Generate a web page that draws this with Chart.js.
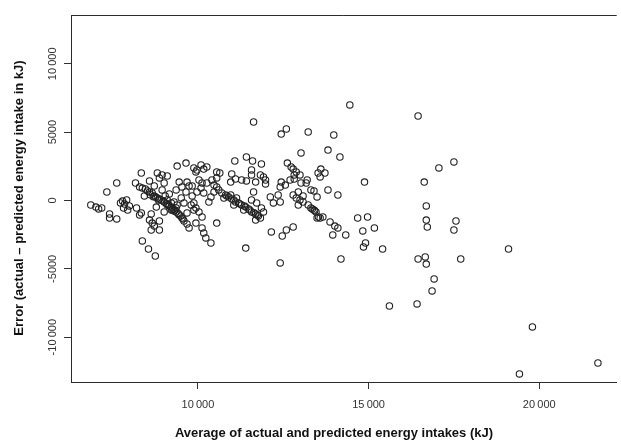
<!DOCTYPE html>
<html>
<head>
<meta charset="utf-8">
<script src="https://cdn.jsdelivr.net/npm/chart.js@4"></script>
<style>
  html, body { margin: 0; padding: 0; background: #fff; }
  #wrap { width: 621px; height: 443px; }
</style>
</head>
<body>
<div id="wrap"><canvas id="baChart" width="621" height="443"></canvas></div>
<script>
// Average of actual and predicted intake (kJ)
const avgIntake = [
  6860, 7010, 7090, 7180, 7330, 7410, 7410, 7620, 7620, 7790, 7850, 7910, 7990, 7820, 7940, 8170,
  7730, 8200, 8290, 8340, 8370, 8550, 8750, 8340, 8630, 8580, 8660, 8720, 8630, 8870, 8870,
  8810, 8950, 9100, 8870, 9010, 9390, 9650, 9880, 9940, 9450, 9680, 9740, 9530, 9360, 9650,
  8290, 8370, 8460, 8520, 8580, 8660, 8720, 8810, 8870, 8920, 9010, 9100, 9160, 9220, 9240,
  9300, 9360, 9450, 9530, 9590, 9680, 9740, 9100, 9220, 9300, 9390, 9220, 9360, 9040, 8950,
  9160, 9510, 9590, 9800, 9880, 9680, 9830, 8720, 8580, 8430, 8780, 9010,
  9970, 10090, 10170, 10260, 10550, 10640, 10550, 10990, 11100, 10960, 11280, 11420, 11570, 11570,
  11830, 11920, 11980, 11980, 11690, 11080, 11420, 11600, 11860, 11630, 10030, 10120, 10260, 10090,
  9970, 10170, 10410, 10470, 10550, 10610, 10470, 10380, 10320,
  10700, 10810, 10900, 10990, 11100, 11190, 11280, 11400, 11480, 11570, 11690, 11770, 11830,
  10760, 10960, 11130, 11340, 11050, 11630, 11570, 11720, 11860, 11920, 12120, 12210,
  9880, 9940, 10030, 10120, 9940, 10120, 10170, 10230, 10380, 10550, 11690, 12150, 11400, 12410, 9830,
  12440, 12590, 13230, 13980, 13020, 13810, 14160, 12620, 12730, 12790, 12880, 12820, 12990, 13020,
  13200, 13170, 13600, 13520, 13580, 13720, 12440, 12560, 12410, 12700, 12820, 13310, 13400, 13490,
  13810, 14100, 12790, 12880, 12990, 13080, 12940, 13080, 12940, 12350, 12410, 13230, 13310, 13400,
  13460, 13490, 13580, 13660, 13870, 14010, 14100, 13950, 14330, 12590, 12790, 12470, 14190,
  14680, 14970, 15170, 14830, 14910, 14850, 14880, 15410, 16450, 17500, 17060, 16630, 16690, 16690,
  16720, 17560, 17500, 19100, 16450, 16660, 16690, 17700, 16920, 16860, 15610, 16420, 19800, 21720,
  19420, 14450,
  8600, 8690, 8760, 8840, 8980, 9070, 9130, 9270, 9330, 9420, 9500, 9560,
  10850, 11050, 11230, 11360, 11520, 11640, 11740, 13350, 13420, 13530
];

// Error: actual minus predicted intake (kJ)
const errorIntake = [
  -330, -480, -620, -550, 620, -990, -1280, -1350, 1280, -40, -260, 40, -400, -550, -700, 1280,
  -180, -550, -1060, 2010, -2960, -3550, -4060, -910, -990, -1430, -1650, -1870, -2160, -1500, -2160,
  2010, 1870, 1790, 1650, 1280, 2520, 2740, 2380, 2090, 1350, 1350, 1060, 990, 770, 620,
  990, 910, 840, 700, 620, 550, 330, 180, 110, 40, -110, -330, -400, -480, -700,
  -770, -840, -1060, -1280, -1500, -1720, -2010, 40, -180, -110, -330, -700, -550, 330, 770,
  480, 180, -180, -330, -700, -910, 330, 1060, 1430, 330, -480, -840,
  2230, 2600, 2300, 2450, 2090, 2010, 1650, 1940, 1570, 1350, 1500, 1430, 2230, 1870,
  1870, 1720, 1500, 1210, 1350, 2890, 3180, 2890, 2670, 5740, 1500, 1280, 1280, 910,
  620, 550, 1500, 1130, 990, 770, 620, 260, -110,
  550, 400, 260, 110, -110, -180, -330, -480, -620, -840, -990, -1130, -1280,
  180, 400, 180, -700, -330, 620, 40, -180, -550, -840, 260, -180,
  -180, -550, -840, -1210, -1650, -2010, -2380, -2740, -3110, -1650, -1430, -2300, -3480, -4570, 1060,
  4860, 5230, 5010, 4790, 3480, 3690, 3180, 2740, 2450, 2300, 2090, 1870, 1870, 1280,
  1500, 1280, 2300, 2010, 1720, 2010, 1350, 1130, 990, 1500, 1570, 770, 700, 260,
  770, 400, 400, 180, 40, 330, 620, -110, -330, 400, -110, -330, -550, -700,
  -840, -1280, -1280, -1210, -1570, -1870, -2010, -2520, -2520, -2160, -1940, -2600, -4280,
  -1280, -1210, -2010, -2230, -3110, -3400, 1350, -3550, 6180, 2820, 2380, 1350, -400, -1430,
  -1940, -1500, -2160, -3550, -4280, -4130, -4650, -4280, -5740, -6620, -7720, -7570, -9250, -11890,
  -12690, 6990,
  420, 280, 250, 40, -30, -220, -290, -620, -700, -950, -1130, -1350,
  330, 40, -250, -400, -700, -900, -1060, -620, -760, -1210
];

const xTickValues = [10000, 15000, 20000];
const yTickValues = [-10000, -5000, 0, 5000, 10000];

const xTitle = 'Average of actual and predicted energy intakes (kJ)';
const yTitle = 'Error (actual \u2013 predicted energy intake in kJ)';

function fmt(v) {
  const s = String(Math.abs(v));
  const t = s.length > 4 ? s.replace(/\B(?=(\d{3})+(?!\d))/g, '\u2009') : s;
  return (v < 0 ? '-' : '') + t;
}

// frame, rotated y labels and axis titles, drawn the R way
const rFrame = {
  id: 'rFrame',
  afterDraw(chart) {
    const c = chart.ctx;
    const area = chart.chartArea;
    const y = chart.scales.y;
    c.save();
    c.strokeStyle = '#2b2b2b';
    c.lineWidth = 1;
    c.beginPath();
    c.moveTo(area.left, area.top + 0.5);
    c.lineTo(area.right, area.top + 0.5);
    c.stroke();

    c.fillStyle = '#333';
    c.font = '11px "Liberation Sans", Arial, sans-serif';
    c.textAlign = 'center';
    c.textBaseline = 'middle';
    yTickValues.forEach(v => {
      c.save();
      c.translate(53, y.getPixelForValue(v));
      c.rotate(-Math.PI / 2);
      c.fillText(fmt(v), 0, 0);
      c.restore();
    });

    c.fillStyle = '#111';
    c.font = 'bold 13px "Liberation Sans", Arial, sans-serif';
    c.fillText(xTitle, 334, 433);
    c.save();
    c.translate(19, 198);
    c.rotate(-Math.PI / 2);
    c.fillText(yTitle, 0, 0);
    c.restore();
    c.restore();
  }
};

const ctx = document.getElementById('baChart').getContext('2d');
new Chart(ctx, {
  type: 'scatter',
  data: {
    datasets: [{
      data: avgIntake.map((x, i) => ({ x: x, y: errorIntake[i] })),
      pointStyle: 'circle',
      pointRadius: 3.2,
      pointHoverRadius: 3.2,
      borderWidth: 1.1,
      borderColor: '#222',
      backgroundColor: 'rgba(0,0,0,0)'
    }]
  },
  options: {
    responsive: false,
    animation: false,
    devicePixelRatio: 1,
    layout: { padding: { top: 15, right: 0, left: 0, bottom: 0 } },
    plugins: { legend: { display: false }, tooltip: { enabled: false } },
    scales: {
      x: {
        type: 'linear',
        min: 6280,
        max: 22270,
        afterBuildTicks: s => { s.ticks = xTickValues.map(v => ({ value: v })); },
        afterFit: s => { s.height = 61; },
        grid: { drawOnChartArea: false, tickLength: 7, color: '#333', tickWidth: 1 },
        border: { display: true, color: '#2b2b2b', width: 1 },
        ticks: {
          color: '#333',
          padding: 9,
          maxRotation: 0,
          font: { family: '"Liberation Sans", Arial, sans-serif', size: 11 },
          callback: v => fmt(v)
        }
      },
      y: {
        type: 'linear',
        min: -13280,
        max: 13570,
        afterBuildTicks: s => { s.ticks = yTickValues.map(v => ({ value: v })); },
        afterFit: s => { s.width = 71; },
        grid: { drawOnChartArea: false, tickLength: 7, color: '#333', tickWidth: 1 },
        border: { display: true, color: '#2b2b2b', width: 1 },
        ticks: { display: false }
      }
    }
  },
  plugins: [rFrame]
});
</script>
</body>
</html>
